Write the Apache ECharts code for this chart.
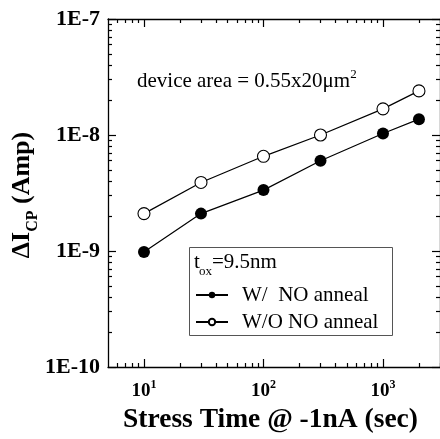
<!DOCTYPE html>
<html><head><meta charset="utf-8">
<script src="https://cdn.jsdelivr.net/npm/echarts@6/dist/echarts.min.js"></script>
<style>html,body{margin:0;padding:0;background:#fff}#c{width:440px;height:439px}</style>
</head><body><div id="c"></div>
<script>
// ---- data ----
const stressTime = [10, 30, 100, 300, 1000, 2000];
const withNO = [0.98e-9, 2.1e-9, 3.35e-9, 6.0e-9, 1.03e-8, 1.37e-8];
const withoutNO = [2.1e-9, 3.9e-9, 6.55e-9, 1.0e-8, 1.68e-8, 2.4e-8];
const seriesNames = ['W/  NO anneal', 'W/O NO anneal'];
const xMajorTicks = [10, 100, 1000];
const xMinorTicks = [6, 7, 8, 9, 20, 30, 40, 50, 60, 70, 80, 90, 200, 300, 400, 500, 600, 700, 800, 900, 2000, 3000];
const yMajorTicks = [1e-10, 1e-9, 1e-8, 1e-7];
const yMinorTicks = [2e-10, 3e-10, 4e-10, 5e-10, 6e-10, 7e-10, 8e-10, 9e-10,
  2e-9, 3e-9, 4e-9, 5e-9, 6e-9, 7e-9, 8e-9, 9e-9,
  2e-8, 3e-8, 4e-8, 5e-8, 6e-8, 7e-8, 8e-8, 9e-8];
const xRange = [5, 3000];
const yRange = [1e-10, 1e-7];

const FONT = 'Liberation Serif';
const chart = echarts.init(document.getElementById('c'), null, {renderer: 'canvas'});
const lineCol = '#000';

function measure(text, font) {
  const ctx = document.createElement('canvas').getContext('2d');
  ctx.font = font;
  return ctx.measureText(text).width;
}

function xAxisDef(pos, major, showLine, showLabel) {
  return {
    type: 'log', logBase: 10, min: xRange[0], max: xRange[1], position: pos,
    axisLine: {show: showLine, onZero: false, lineStyle: {color: lineCol, width: 1.3}},
    axisTick: {show: true, inside: true, length: major ? 8 : 4,
      customValues: major ? xMajorTicks : xMinorTicks, lineStyle: {color: lineCol, width: 1.2}},
    axisLabel: {show: showLabel, customValues: xMajorTicks, margin: 12,
      formatter: v => '{b|10}{s|' + Math.round(Math.log10(v)) + '}',
      rich: {
        b: {fontFamily: FONT, fontWeight: 'bold', fontSize: 19, color: '#000', lineHeight: 22, verticalAlign: 'bottom'},
        s: {fontFamily: FONT, fontWeight: 'bold', fontSize: 12, color: '#000', lineHeight: 12, verticalAlign: 'top'}
      }},
    splitLine: {show: false}, minorTick: {show: false}
  };
}
function yAxisDef(pos, major, showLine, showLabel) {
  return {
    type: 'log', logBase: 10, min: yRange[0], max: yRange[1], position: pos,
    axisLine: {show: showLine, onZero: false, lineStyle: {color: lineCol, width: 1.3}},
    axisTick: {show: true, inside: true, length: major ? 8 : 4,
      customValues: major ? yMajorTicks : yMinorTicks, lineStyle: {color: lineCol, width: 1.2}},
    axisLabel: {show: showLabel, customValues: yMajorTicks, margin: 8,
      fontFamily: FONT, fontWeight: 'bold', fontSize: 22, color: '#000',
      formatter: v => '1E' + Math.round(Math.log10(v))},
    splitLine: {show: false}, minorTick: {show: false}
  };
}

const xAxes = [
  xAxisDef('bottom', true, true, true),
  xAxisDef('bottom', false, false, false),
  xAxisDef('top', true, true, false),
  xAxisDef('top', false, false, false)
];
Object.assign(xAxes[0], {
  name: 'Stress Time @ -1nA (sec)', nameLocation: 'middle', nameGap: 39,
  nameTextStyle: {fontFamily: FONT, fontWeight: 'bold', fontSize: 27.5, color: '#000', padding: [0, 7, 0, 0]}
});
const yAxes = [
  yAxisDef('left', true, true, true),
  yAxisDef('left', false, false, false),
  yAxisDef('right', true, true, false),
  yAxisDef('right', false, false, false)
];

// y-axis title pieces (rotated group)
const yTitleMain = 'bold 26px "' + FONT + '"';
const yTitleSub = 'bold 16px "' + FONT + '"';
const wA = measure('ΔI', yTitleMain), wS = measure('CP', yTitleSub), wB = measure(' (Amp)', yTitleMain);
const x0 = -(wA + wS + wB) / 2;

const option = {
  backgroundColor: '#fff',
  animation: false,
  grid: {left: 108, top: 19, width: 333, height: 349, containLabel: false},
  xAxis: xAxes,
  yAxis: yAxes,
  legend: {
    data: seriesNames, orient: 'vertical', left: 195, top: 284, padding: 0,
    itemWidth: 32, itemHeight: 8, itemGap: 5, selectedMode: false,
    textStyle: {fontFamily: FONT, fontSize: 21, color: '#000', lineHeight: 22, padding: [0, 0, 0, 9]}
  },
  graphic: [
    {type: 'rect', z: 1, shape: {x: 189.5, y: 247.5, width: 203, height: 88},
      style: {fill: '#fff', stroke: '#555', lineWidth: 1}},
    {type: 'text', z: 5, x: 194, y: 262, style: {text: 't', fontFamily: FONT, fontSize: 21, fill: '#000', verticalAlign: 'middle'}},
    {type: 'text', z: 5, x: 199, y: 272, style: {text: 'ox', fontFamily: FONT, fontSize: 13, fill: '#000', verticalAlign: 'middle'}},
    {type: 'text', z: 5, x: 212, y: 262, style: {text: '=9.5nm', fontFamily: FONT, fontSize: 21, fill: '#000', verticalAlign: 'middle'}},
    {type: 'text', z: 5, x: 137, y: 80, style: {
      text: '{a|device area = 0.55x20μm}{s|2}', verticalAlign: 'middle',
      rich: {
        a: {fontFamily: FONT, fontSize: 21, fill: '#000', lineHeight: 24, verticalAlign: 'bottom'},
        s: {fontFamily: FONT, fontSize: 13, fill: '#000', lineHeight: 13, verticalAlign: 'top'}
      }}},
    {type: 'group', x: 22, y: 195, rotation: Math.PI / 2, children: [
      {type: 'text', x: x0, y: 0, style: {text: 'ΔI', font: yTitleMain, fill: '#000', verticalAlign: 'middle', align: 'left'}},
      {type: 'text', x: x0 + wA, y: 11, style: {text: 'CP', font: yTitleSub, fill: '#000', verticalAlign: 'middle', align: 'left'}},
      {type: 'text', x: x0 + wA + wS, y: 0, style: {text: ' (Amp)', font: yTitleMain, fill: '#000', verticalAlign: 'middle', align: 'left'}}
    ]}
  ],
  series: [
    {
      name: seriesNames[0], type: 'line', xAxisIndex: 0, yAxisIndex: 0,
      data: stressTime.map((t, i) => [t, withNO[i]]),
      symbol: 'circle', symbolSize: 12,
      itemStyle: {color: '#000'},
      lineStyle: {color: '#000', width: 1.2}
    },
    {
      name: seriesNames[1], type: 'line', xAxisIndex: 0, yAxisIndex: 0,
      data: stressTime.map((t, i) => [t, withoutNO[i]]),
      symbol: 'circle', symbolSize: 12,
      itemStyle: {color: '#fff', borderColor: '#000', borderWidth: 1.1},
      lineStyle: {color: '#000', width: 1.2}
    }
  ]
};
chart.setOption(option);
</script>
</body></html>
